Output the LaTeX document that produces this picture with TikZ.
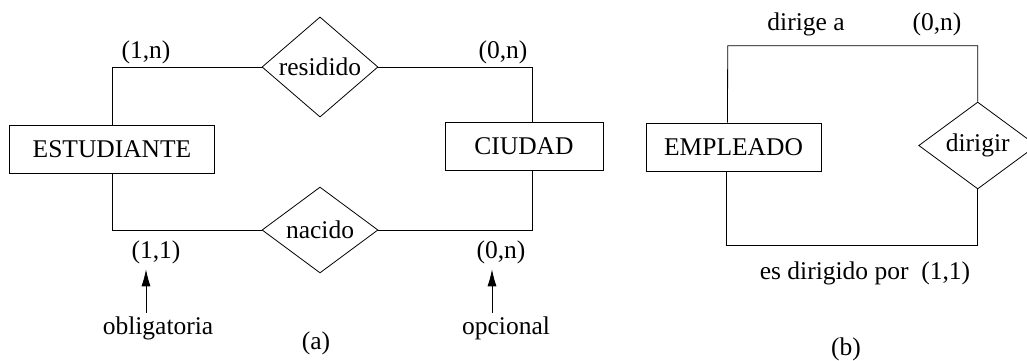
\documentclass[tikz,border=0pt]{standalone}
\usepackage{fontspec}
\setmainfont{Liberation Serif}
\usetikzlibrary{shapes.geometric,arrows.meta}
\begin{document}
\begin{tikzpicture}[x=1pt,y=-1pt,line width=0.8pt,
  every node/.style={font=\fontsize{25.5}{30}\selectfont},
  entity/.style={draw, rectangle, minimum height=48pt, inner sep=0pt},
  rel/.style={draw, diamond, minimum width=116pt, minimum height=64pt, inner sep=0pt},
  arr/.style={-{Latex[length=17pt,width=9pt]}}]
  \useasboundingbox (0,0) rectangle (1027,360);
  \node[entity, minimum width=205pt] (est) at (112,149) {ESTUDIANTE};
  \node[entity, minimum width=158pt] (ciu) at (524,146) {CIUDAD};
  \node[rel] (res) at (320,67) {residido};
  \node[rel] (nac) at (320,230) {nacido};
  \draw (est.north) |- (res.west);
  \draw (res.east) -| ([xshift=8pt]ciu.north);
  \draw (est.south) |- (nac.west);
  \draw (nac.east) -| ([xshift=8pt]ciu.south);
  \node (c1n) at (146,52) {(1,n)};
  \node (c0ntop) at (503,52) {(0,n)};
  \node (c11) at (156,252) {(1,1)};
  \node (c0n) at (501,252) {(0,n)};
  \node (obl) at (158,328) {obligatoria};
  \node (opc) at (506,328) {opcional};
  \node (capa) at (316,343) {(a)};
  \coordinate (xa) at (146,0);
  \coordinate (xb) at (492,0);
  \draw[arr] (obl.north -| xa) -- ([yshift=-2pt]c11.south -| xa);
  \draw[arr] (opc.north -| xb) -- ([yshift=-2pt]c0n.south -| xb);
  \node[entity, minimum width=175pt] (emp) at (733.5,147) {EMPLEADO};
  \node[rel, minimum width=118pt, minimum height=65pt] (dir) at (977.7,145.5) {dirigir};
  \coordinate (btop) at (727.7,45.7);
  \coordinate (bbot) at (0,245);
  \draw ([xshift=-6pt]emp.north) -- (btop) -| (dir.north);
  \draw (dir.south) -- (dir.south |- bbot) -| ([xshift=-7pt]emp.south);
  \node (dirige) at (806,24) {dirige a};
  \node (c0nb) at (937,24) {(0,n)};
  \node (esdir) at (865,273) {es dirigido por\ \ (1,1)};
  \node (capb) at (846,349) {(b)};
\end{tikzpicture}
\end{document}
